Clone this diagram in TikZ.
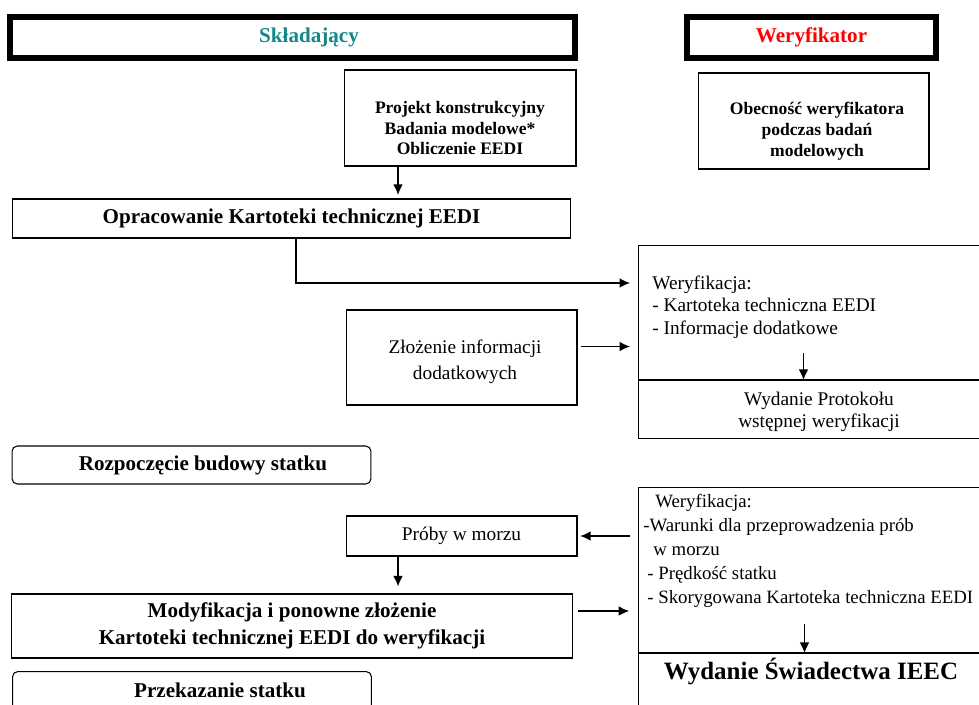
\documentclass[tikz,border=0pt]{standalone}
\usepackage{fontspec}
\setmainfont{Liberation Serif}
\usetikzlibrary{arrows.meta}
\definecolor{sklcolor}{RGB}{20,135,135}
\definecolor{wercolor}{RGB}{255,0,0}

\begin{document}
\begin{tikzpicture}[x=0.02cm, y=-0.02cm,
    header/.style={draw, line width=3.2pt, minimum height=0.82cm},
    box/.style={draw, line width=0.6pt, inner sep=0pt, align=center},
    rbox/.style={box, rounded corners=3pt},
    lbl/.style={inner sep=0pt},
    bigtxt/.style={font=\bfseries\fontsize{12}{15}\selectfont},
    smalltxt/.style={font=\bfseries\fontsize{10}{11.6}\selectfont, align=center},
    plaintxt/.style={font=\fontsize{11}{12.8}\selectfont},
    arr/.style={-{Latex[length=6pt, width=5.5pt]}, line width=0.8pt}]
    \useasboundingbox (0,0) rectangle (979,704);

    % naglowki
    \node[header, minimum width=11.3cm] (skl) at (292.5,37.5) {};
    \node[bigtxt, text=sklcolor] (skltxt) at (309,37) {Składający};
    \node[header, bigtxt, text=wercolor, minimum width=4.98cm] (wer) at (811.5,37.5) {Weryfikator};

    % projekt i badania modelowe
    \node[box, minimum width=4.64cm, minimum height=1.92cm] (proj) at (460,118) {};
    \node[smalltxt] (projtxt) at (460,128) {Projekt konstrukcyjny\\Badania modelowe*\\Obliczenie EEDI};
    \node[box, minimum width=4.62cm, minimum height=1.92cm] (obec) at (813.5,121) {};
    \node[smalltxt, font=\bfseries\fontsize{10}{12}\selectfont] (obectxt) at (817,131) {Obecność weryfikatora\\podczas badań\\modelowych};

    \node[box, bigtxt, minimum width=11.18cm, minimum height=0.78cm] (oprac) at (291.5,218.5) {Opracowanie Kartoteki technicznej EEDI};
    \draw[arr, shorten >=2pt] ([xshift=-1.24cm]proj.south) -- ([xshift=-1.24cm]proj.south |- oprac.north);

    % wstepna weryfikacja
    \node[box, anchor=north west, minimum width=7.24cm, minimum height=2.68cm] (ver1) at (638,245) {};
    \node[box, anchor=north west, minimum width=7.24cm, minimum height=1.16cm] (prot) at (ver1.south west) {};
    \node[lbl, plaintxt, align=center] (prottxt) at (819,412) {Wydanie Protokołu\\wstępnej weryfikacji};
    \node[lbl, plaintxt, anchor=west, align=left] (ver1txt) at (652,307) {Weryfikacja:\\- Kartoteka techniczna EEDI\\- Informacje dodatkowe};
    \draw[arr] ([xshift=-0.32cm, yshift=0.54cm]prot.north) -- ([xshift=-0.32cm]prot.north);

    \node[box, minimum width=4.62cm, minimum height=1.9cm] (zloz) at (461.5,357.5) {};
    \node[lbl, font=\fontsize{11}{15}\selectfont, align=center] (zloztxt) at (465,362) {Złożenie informacji\\dodatkowych};
    \draw[arr, shorten >=4.5pt] ([xshift=0.09cm]oprac.south) |- ([yshift=-0.76cm]ver1.north west);
    \draw[arr, shorten <=2pt, shorten >=4.5pt] ([yshift=0.22cm]zloz.east) -- ([yshift=0.22cm]zloz.east -| ver1.west);

    \node[rbox, minimum width=7.18cm, minimum height=0.76cm] (rozp) at (191.5,465) {};
    \node[bigtxt] (rozptxt) at (203,465) {Rozpoczęcie budowy statku};

    % weryfikacja po probach
    \node[box, anchor=north west, minimum width=7.24cm, minimum height=3.3cm] (ver2) at (638,487) {};
    \node[box, anchor=north west, minimum width=7.24cm, minimum height=1.4cm] (ieec) at (ver2.south west) {};
    \node[font=\bfseries\fontsize{14.2}{16}\selectfont] (ieectxt) at (811,671) {Wydanie Świadectwa IEEC};
    \node[lbl, font=\fontsize{10.7}{13.6}\selectfont, anchor=west, align=left] (ver2txt) at (643,551) {\hspace*{6.8pt}Weryfikacja:\\-Warunki dla przeprowadzenia prób\\\hspace*{5.7pt}w morzu\\\hspace*{2.3pt}- Prędkość statku\\\hspace*{2.3pt}- Skorygowana Kartoteka techniczna EEDI};
    \draw[arr] ([xshift=-0.3cm, yshift=0.58cm]ieec.north) -- ([xshift=-0.3cm]ieec.north);

    \node[box, plaintxt, minimum width=4.62cm, minimum height=0.8cm] (proby) at (461.5,536) {Próby w morzu};
    \draw[arr, shorten <=4.5pt, shorten >=1.5pt] (proby.east -| ver2.west) -- (proby.east);

    \node[box, bigtxt, minimum width=11.24cm, minimum height=1.28cm] (modyf) at (292,626) {Modyfikacja i ponowne złożenie\\Kartoteki technicznej EEDI do weryfikacji};
    \draw[arr, shorten >=4pt] ([xshift=-1.27cm]proby.south) -- ([xshift=-1.27cm]proby.south |- modyf.north);
    \draw[arr, shorten <=2.5pt, shorten >=5pt] ([yshift=0.3cm]modyf.east) -- ([yshift=0.3cm]modyf.east -| ver2.west);

    \node[rbox, anchor=north west, minimum width=7.18cm, minimum height=1cm] (przek) at (12,671) {};
    \node[bigtxt] (przektxt) at (220,690) {Przekazanie statku};
\end{tikzpicture}
\end{document}
